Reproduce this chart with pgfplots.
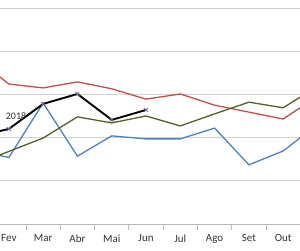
\documentclass[border=0pt]{standalone}
\usepackage{fontspec}
\setmainfont{Carlito}
\usepackage{pgfplots}
\pgfplotsset{compat=1.18}
\definecolor{xred}{RGB}{192,80,77}
\definecolor{xblue}{RGB}{79,129,189}
\definecolor{xgreen}{RGB}{79,98,40}
\definecolor{xgrid}{RGB}{210,210,210}
\definecolor{xaxis}{RGB}{185,185,185}
\definecolor{xmark}{RGB}{128,100,162}
\begin{document}
\begin{tikzpicture}
\begin{axis}[
 scale only axis, width=300pt, height=224pt,
 xmin=0.742, xmax=9.49, ymin=0, ymax=5.185,
 axis line style={draw=none},
 xtick={1,2,...,9},
 xticklabels={Fev,Mar,Abr,Mai,Jun,Jul,Ago,Set,Out},
 xtick style={draw=none},
 ytick={1,2,3,4,5}, yticklabels={}, ymajorgrids,
 grid style={xgrid, line width=0.9pt},
 ytick style={draw=none},
 tick label style={font=\fontsize{11}{12}\selectfont, text=black!80},
 x tick label style={yshift=-7pt},
 clip=true,
]
\addplot[xblue, line width=1.3pt, mark=none] coordinates {
 (0,1.71) (1,1.54) (2,2.80) (3,1.57) (4,2.04) (5,1.97) (6,1.97) (7,2.22) (8,1.37) (9,1.69) (10,2.31)};
\addplot[xred, line width=1.3pt, mark=none] coordinates {
 (0,3.87) (1,3.24) (2,3.15) (3,3.29) (4,3.13) (5,2.89) (6,3.01) (7,2.75) (8,2.59) (9,2.43) (10,2.96)};
\addplot[xgreen, line width=1.3pt, mark=none] coordinates {
 (0,1.37) (1,1.68) (2,1.99) (3,2.48) (4,2.34) (5,2.50) (6,2.27) (7,2.55) (8,2.82) (9,2.69) (10,3.19)};
\addplot[black, line width=1.9pt, mark=x, mark size=2.8pt, mark options={xmark, line width=0.8pt}] coordinates {
 (0,2.02) (1,2.20) (2,2.78) (3,3.01) (4,2.41) (5,2.64)};
\node[font=\fontsize{10}{11}\selectfont, text=black!80] at (axis cs:1.21,2.5) {2018};
\end{axis}
\draw[xaxis, line width=1pt] ([yshift=-0.5pt]current axis.south west) -- ([yshift=-0.5pt]current axis.south east);
\foreach \k in {0,...,7} {
  \draw[xaxis, line width=1pt] ([xshift=26pt+\k*34.29pt]current axis.south west) -- ++(0,-5.5pt);
}
\pgfresetboundingbox
\useasboundingbox (current axis.south west) ++(0,-26pt) rectangle (current axis.north east);
\end{tikzpicture}
\end{document}
